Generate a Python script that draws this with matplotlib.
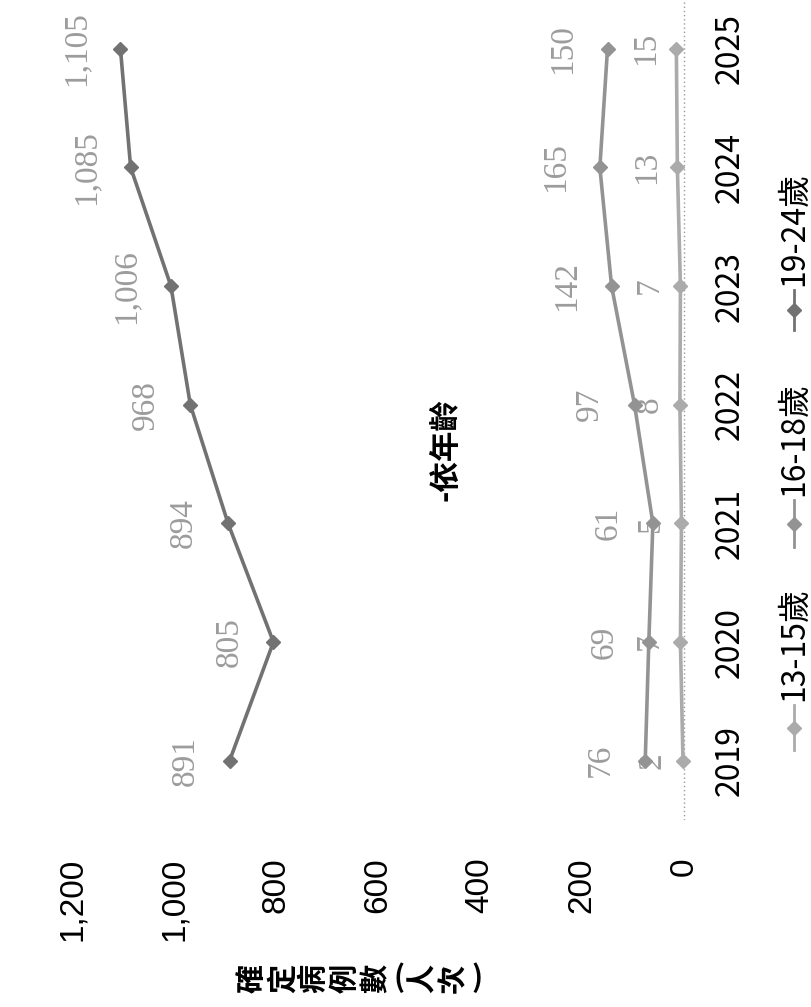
import matplotlib

matplotlib.use("Agg")
import matplotlib.pyplot as plt
from matplotlib.lines import Line2D

plt.rcParams["font.family"] = ["Noto Sans CJK TC", "DejaVu Sans"]

# ── data ─────────────────────────────────────────────────────────────
years = ["2019", "2020", "2021", "2022", "2023", "2024", "2025"]
age_13_15 = [2, 7, 5, 8, 7, 13, 15]
age_16_18 = [76, 69, 61, 97, 142, 165, 150]
age_19_24 = [891, 805, 894, 968, 1006, 1085, 1105]
series_names = ["13-15歲", "16-18歲", "19-24歲"]
value_ticks = [0, 200, 400, 600, 800, 1000, 1200]
title_text = "-依年齡"
ylabel_text = "確定病例數(人次)"

# ── style / layout (the whole chart is drawn turned 90° CCW) ─────────
W, H = 812, 1007
COLORS = ["#ababab", "#939393", "#727272"]
LABEL_GAP = [22, 32, 32]          # label distance from marker, points
LEGEND_SEG = [(750, 705), (547, 500), (330, 290)]  # px, bottom -> top


def fx(px):
    return px / W


def fy(py):
    return 1 - py / H


fig = plt.figure(figsize=(W / 100, H / 100), dpi=100)
ax_l, ax_r, ax_t, ax_b = 40, 700, -10.5, 820
ax = fig.add_axes([fx(ax_l), fy(ax_b), (ax_r - ax_l) / W, (ax_b - ax_t) / H])

zero_px, px_per_unit = 684, 0.51
ax.set_xlim((zero_px - ax_l) / px_per_unit, (zero_px - ax_r) / px_per_unit)
ax.set_ylim(-0.5, len(years) - 0.5)

for s in ax.spines.values():
    s.set_visible(False)
ax.axvline(0, color="#9a9a9a", lw=1, ls=(0, (1, 2)), zorder=1)

idx = list(range(len(years)))
for vals, c, gap in zip([age_13_15, age_16_18, age_19_24], COLORS, LABEL_GAP):
    ax.plot(vals, idx, color=c, lw=2.6, marker="D", ms=7, zorder=3)
    for v, i in zip(vals, idx):
        ax.annotate(f"{v:,}", (v, i), xytext=(-gap, 0), textcoords="offset points",
                    rotation=90, ha="center", va="center", fontsize=24,
                    family=["Liberation Serif"], color="#9c9c9c")

# value axis (bottom, rotated labels)
ax.set_xticks(value_ticks)
ax.set_xticklabels([f"{v:,}" for v in value_ticks], rotation=90,
                   family=["Liberation Sans"], fontsize=24)
ax.tick_params(axis="x", length=0, pad=27)
ax.set_yticks([])

# category labels on the right side
for i, y in zip(idx, years):
    ax.text((730 - ax_l) / (ax_r - ax_l), i, y, transform=ax.get_yaxis_transform(),
            rotation=90, ha="center", va="center", fontsize=23, fontweight="medium")

# legend, drawn by hand because it is turned too
for name, c, (pb, pt) in zip(series_names, COLORS, LEGEND_SEG):
    fig.add_artist(Line2D([fx(794)] * 2, [fy(pb), fy(pt)], color=c, lw=2))
    fig.add_artist(Line2D([fx(794)], [fy((pb + pt) / 2)], color=c, marker="D", ms=7))
    fig.text(fx(794), fy(pt - 4), name, rotation=90, ha="center", va="bottom",
             fontsize=23, fontweight="medium")

fig.text(fx(445), fy(450), title_text, rotation=90, ha="center", va="center",
         fontsize=22, fontweight="bold")

# axis title: stacked characters, so each one is placed on its own
x = 236
for ch in ylabel_text:
    w = 16 if ch in "()" else 31
    fig.text(fx(x + w / 2), fy(978), ch, rotation=0 if ch in "()" else 90,
             ha="center", va="center", fontsize=21, fontweight="bold")
    x += w

fig.savefig("out.png", dpi=100)
